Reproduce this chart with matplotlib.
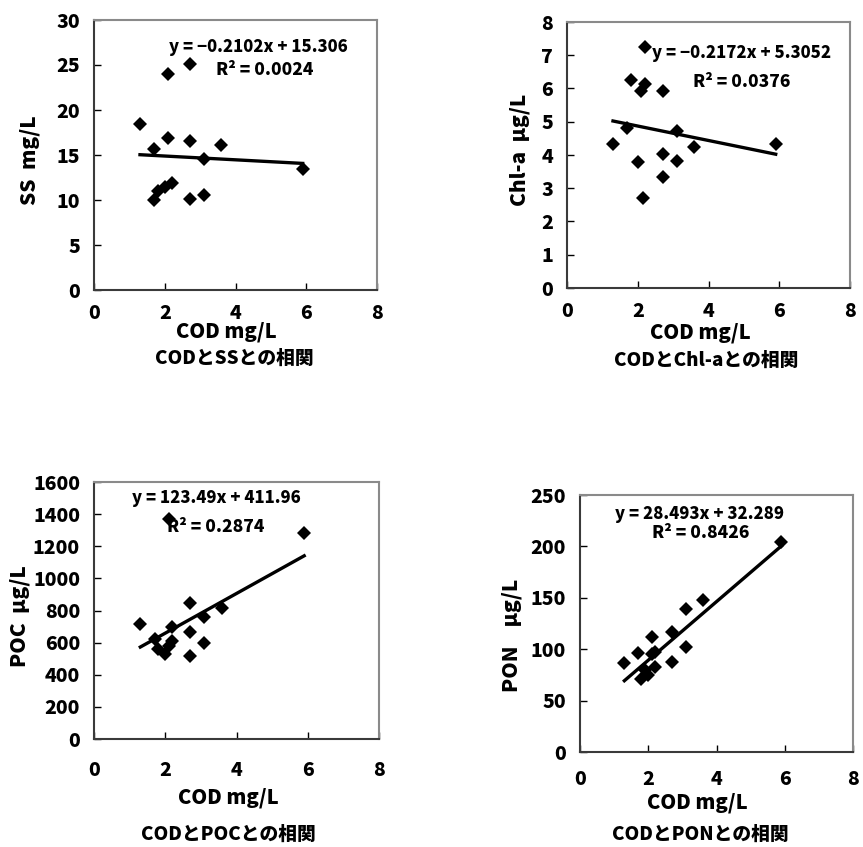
import matplotlib
matplotlib.use("Agg")
import matplotlib.pyplot as plt
import numpy as np

plt.rcParams['font.family'] = ['Noto Sans CJK JP', 'DejaVu Sans']
plt.rcParams['font.weight'] = 'bold'

# ---- data ----
cod_ss = [1.3, 1.7, 2.1, 2.7, 3.6, 3.1, 5.9, 2.1, 2.7, 1.7, 1.8, 2.0, 2.2, 2.7, 3.1]
ss = [18.4, 15.7, 16.9, 16.6, 16.1, 14.6, 13.4, 24.0, 25.1, 10.0, 11.0, 11.4, 11.9, 10.1, 10.6]

cod_chla = [1.3, 1.7, 1.8, 2.2, 2.2, 2.1, 2.7, 3.1, 3.6, 5.9, 2.0, 2.7, 3.1, 2.7, 2.15]
chla = [4.33, 4.82, 6.25, 7.25, 6.15, 5.93, 5.93, 4.73, 4.25, 4.33, 3.8, 4.03, 3.82, 3.33, 2.72]

cod_poc = [1.3, 1.7, 1.8, 2.0, 2.1, 2.2, 2.2, 2.7, 2.7, 2.7, 3.1, 3.1, 3.6, 5.9, 2.1]
poc = [715, 620, 560, 530, 1370, 700, 610, 845, 665, 515, 760, 600, 815, 1285, 580]

cod_pon = [1.3, 1.7, 1.8, 1.9, 2.0, 2.1, 2.2, 2.2, 2.7, 2.7, 3.1, 3.1, 3.6, 5.9, 2.1]
pon = [87, 96, 71, 80, 75, 112, 97, 83, 117, 88, 139, 102, 148, 204, 95]

slopes = [-0.2102, -0.2172, 123.49, 28.493]
intercepts = [15.306, 5.3052, 411.96, 32.289]
eq_texts = ["y = \u22120.2102x + 15.306", "y = \u22120.2172x + 5.3052",
            "y = 123.49x + 411.96", "y = 28.493x + 32.289"]
r2_texts = ["R\u00b2 = 0.0024", "R\u00b2 = 0.0376", "R\u00b2 = 0.2874", "R\u00b2 = 0.8426"]
ylabels = ["SS  mg/L", "Chl-a  \u03bcg/L", "POC  \u03bcg/L", "PON    \u03bcg/L"]
xlabel = "COD mg/L"
titles = ["CODとSSとの相関", "CODとChl-aとの相関", "CODとPOCとの相関", "CODとPONとの相関"]
xticks = [0, 2, 4, 6, 8]
yticks_list = [list(range(0, 31, 5)), list(range(0, 9, 1)),
               list(range(0, 1601, 200)), list(range(0, 251, 50))]

xs = [cod_ss, cod_chla, cod_poc, cod_pon]
ys = [ss, chla, poc, pon]

# ---- layout ----
W, H = 863, 847
fig = plt.figure(figsize=(W / 100, H / 100), dpi=100)

# axes boxes in pixels: left, top, right, bottom
boxes = [(94, 20, 377, 290), (567, 22, 850, 288),
         (94, 482, 379, 739), (580, 495, 853, 752)]
eq_pos = [(0.58, 0.90), (0.617, 0.883), (0.428, 0.936), (0.438, 0.925)]
r2_pos = [(0.604, 0.815), (0.618, 0.775), (0.427, 0.825), (0.443, 0.851)]
ylab_pos = [(-0.19, 0.48), (-0.13, 0.52), (-0.225, 0.48), (-0.213, 0.455)]
xlab_pos = [(0.466, -0.118), (0.47, -0.128), (0.47, -0.19), (0.43, -0.158)]
xpads = [10, 10, 16, 13]
title_pos = [(234, 358), (706, 360), (228, 834), (700, 834)]

for i in range(4):
    l, t, r, b = boxes[i]
    ax = fig.add_axes([l / W, 1 - b / H, (r - l) / W, (b - t) / H])
    x = np.array(xs[i], dtype=float)
    y = np.array(ys[i], dtype=float)
    ax.plot(x, y, linestyle='none', marker='D', markersize=7.5, color='black',
            markeredgewidth=0, zorder=3)
    xl = np.array([x.min(), x.max()])
    ax.plot(xl, slopes[i] * xl + intercepts[i], color='black', lw=2.4, zorder=2)

    ax.set_xlim(0, 8)
    ax.set_xticks(xticks)
    yt = yticks_list[i]
    ax.set_ylim(yt[0], yt[-1])
    ax.set_yticks(yt)
    ax.tick_params(direction='in', length=5, width=1, labelsize=14, colors='black')
    ax.tick_params(axis='x', pad=xpads[i])
    ax.tick_params(axis='y', pad=10)
    for lab in ax.get_xticklabels() + ax.get_yticklabels():
        lab.set_fontweight('heavy')
    for s in ['top', 'right']:
        ax.spines[s].set_color('#8a8a8a')
        ax.spines[s].set_linewidth(1.5)
    for s in ['left', 'bottom']:
        ax.spines[s].set_color('#3a3a3a')
        ax.spines[s].set_linewidth(1.5)

    ax.set_ylabel(ylabels[i], fontsize=15, fontweight='heavy')
    ax.yaxis.set_label_coords(*ylab_pos[i])
    ax.set_xlabel(xlabel, fontsize=14.5, fontweight='heavy')
    ax.xaxis.set_label_coords(*xlab_pos[i])

    ax.text(*eq_pos[i], eq_texts[i], transform=ax.transAxes, ha='center', va='center',
            fontsize=12, fontweight='heavy', zorder=4)
    ax.text(*r2_pos[i], r2_texts[i], transform=ax.transAxes, ha='center', va='center',
            fontsize=12.5, fontweight='heavy', zorder=4)

    tx, ty = title_pos[i]
    fig.text(tx / W, 1 - ty / H, titles[i], ha='center', va='center',
             fontsize=13.5, fontweight='heavy')

fig.savefig("out.png", dpi=100)
